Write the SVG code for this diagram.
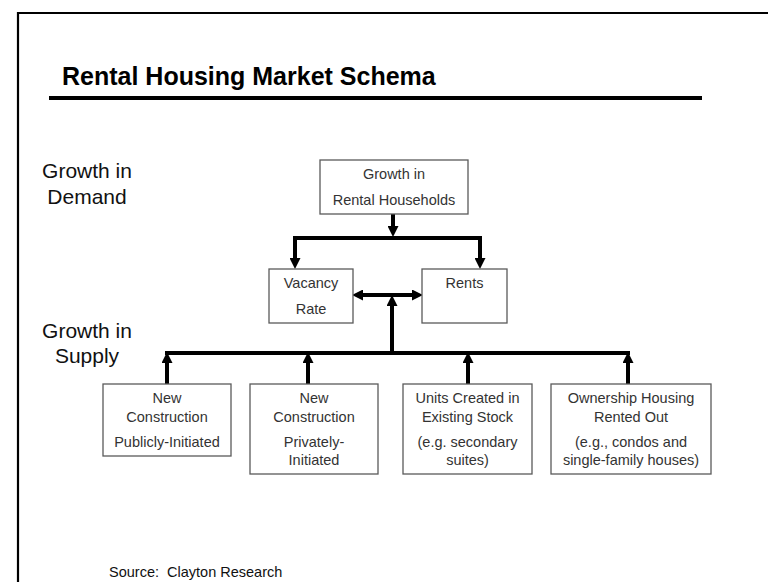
<svg xmlns="http://www.w3.org/2000/svg" width="768" height="582" viewBox="0 0 768 582">
  <style>
    .box { fill: #ffffff; stroke: #5a5a5a; stroke-width: 1.3; }
    .bt { font-family: "Liberation Sans", Arial, sans-serif; font-size: 14.5px; fill: #333333; text-anchor: middle; }
    .side { font-family: "Liberation Sans", Arial, sans-serif; font-size: 21px; fill: #111111; text-anchor: middle; }
    .wire { fill: none; stroke: #000000; stroke-width: 4; }
  </style>
  <defs>
    <marker id="head" markerUnits="userSpaceOnUse" markerWidth="11" markerHeight="11" viewBox="0 0 10 10" refX="0" refY="5" orient="auto-start-reverse">
      <path d="M0,0 L10,5 L0,10 z" fill="#000000"/>
    </marker>
  </defs>

  <rect width="768" height="582" fill="#ffffff"/>
  <!-- page frame -->
  <path d="M18,582 V13 H768" fill="none" stroke="#000000" stroke-width="2.2"/>

  <!-- heading -->
  <text x="62" y="85" font-family="'Liberation Sans', Arial, sans-serif" font-size="25" font-weight="bold" fill="#000000">Rental Housing Market Schema</text>
  <rect x="49" y="96" width="653" height="4" fill="#000000"/>

  <!-- side labels -->
  <g id="label-demand">
    <text class="side" x="87" y="178">Growth in</text>
    <text class="side" x="87" y="204">Demand</text>
  </g>
  <g id="label-supply">
    <text class="side" x="87" y="338">Growth in</text>
    <text class="side" x="87" y="363">Supply</text>
  </g>

  <!-- connectors -->
  <g id="connectors">
    <path class="wire" d="M393,214 V226" marker-end="url(#head)"/>
    <path class="wire" d="M295,258 V238 H480 V258" marker-start="url(#head)" marker-end="url(#head)"/>
    <path class="wire" d="M363,295 H412" marker-start="url(#head)" marker-end="url(#head)"/>
    <path class="wire" d="M392,353 V306" marker-end="url(#head)"/>
    <path class="wire" d="M165,353 H630"/>
    <path class="wire" d="M167,384 V363" marker-end="url(#head)"/>
    <path class="wire" d="M308,384 V363" marker-end="url(#head)"/>
    <path class="wire" d="M468,384 V363" marker-end="url(#head)"/>
    <path class="wire" d="M628,384 V363" marker-end="url(#head)"/>
  </g>

  <!-- nodes -->
  <g id="rental-households">
    <rect class="box" x="320" y="160" width="148" height="54"/>
    <text class="bt" x="394" y="179">Growth in</text>
    <text class="bt" x="394" y="205">Rental Households</text>
  </g>
  <g id="vacancy-rate">
    <rect class="box" x="269" y="269" width="84" height="54"/>
    <text class="bt" x="311" y="288">Vacancy</text>
    <text class="bt" x="311" y="314">Rate</text>
  </g>
  <g id="rents">
    <rect class="box" x="422" y="269" width="85" height="54"/>
    <text class="bt" x="464.5" y="288">Rents</text>
  </g>
  <g id="public-construction">
    <rect class="box" x="103" y="384" width="128" height="72"/>
    <text class="bt" x="167" y="403">New</text>
    <text class="bt" x="167" y="422">Construction</text>
    <text class="bt" x="167" y="447">Publicly-Initiated</text>
  </g>
  <g id="private-construction">
    <rect class="box" x="250" y="384" width="128" height="90"/>
    <text class="bt" x="314" y="403">New</text>
    <text class="bt" x="314" y="422">Construction</text>
    <text class="bt" x="314" y="447">Privately-</text>
    <text class="bt" x="314" y="465">Initiated</text>
  </g>
  <g id="existing-stock">
    <rect class="box" x="403" y="384" width="129" height="90"/>
    <text class="bt" x="467.5" y="403">Units Created in</text>
    <text class="bt" x="467.5" y="422">Existing Stock</text>
    <text class="bt" x="467.5" y="447">(e.g. secondary</text>
    <text class="bt" x="467.5" y="465">suites)</text>
  </g>
  <g id="ownership-rented">
    <rect class="box" x="551" y="384" width="160" height="90"/>
    <text class="bt" x="631" y="403">Ownership Housing</text>
    <text class="bt" x="631" y="422">Rented Out</text>
    <text class="bt" x="631" y="447">(e.g., condos and</text>
    <text class="bt" x="631" y="465">single-family houses)</text>
  </g>

  <!-- source note -->
  <text x="109" y="577" font-family="'Liberation Sans', Arial, sans-serif" font-size="14.5" fill="#111111" xml:space="preserve">Source:  Clayton Research</text>
</svg>
